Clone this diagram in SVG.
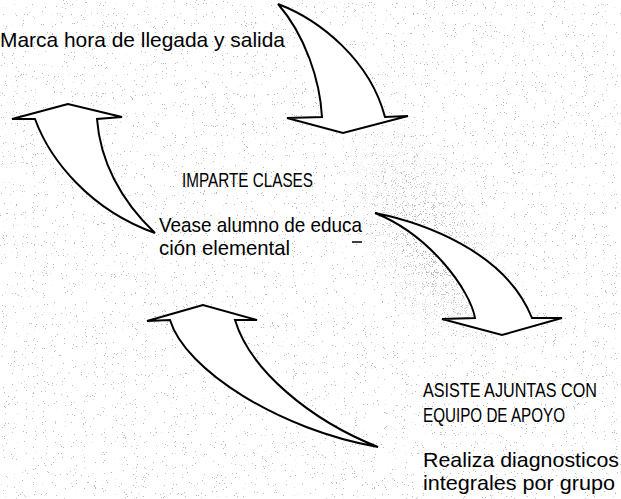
<svg xmlns="http://www.w3.org/2000/svg" width="621" height="499" viewBox="0 0 621 499">
<style>
.arrow{fill:#fff;stroke:#000;stroke-width:2;stroke-linejoin:miter}
.t{font-family:"Liberation Sans Narrow","Liberation Sans",Arial,sans-serif;font-size:21px;fill:#000}
</style>
<defs>
<filter id="speck" x="0" y="0" width="621" height="499" filterUnits="userSpaceOnUse">
<feTurbulence type="fractalNoise" baseFrequency="0.9" numOctaves="2" seed="7" result="n"/>
<feColorMatrix in="n" type="matrix" values="0 0 0 0 0.25 0 0 0 0 0.25 0 0 0 0 0.25 30 0 0 0 -21.5"/>
</filter>
<filter id="speck2" x="0" y="0" width="621" height="499" filterUnits="userSpaceOnUse">
<feTurbulence type="fractalNoise" baseFrequency="0.9" numOctaves="2" seed="11" result="n"/>
<feColorMatrix in="n" type="matrix" values="0 0 0 0 0.2 0 0 0 0 0.2 0 0 0 0 0.2 24 0 0 0 -15.4"/>
</filter>
<radialGradient id="dens" cx="430" cy="240" r="140" gradientUnits="userSpaceOnUse" gradientTransform="translate(430 240) rotate(60) scale(1 0.5) translate(-430 -240)">
<stop offset="0" stop-color="#fff" stop-opacity="1"/>
<stop offset="1" stop-color="#fff" stop-opacity="0"/>
</radialGradient>
<mask id="m">
<rect width="621" height="499" fill="url(#dens)"/>
</mask>
</defs>
<rect width="621" height="499" fill="#fff"/>
<g id="background-speckle">
<rect width="621" height="499" filter="url(#speck)" opacity="0.6"/>
<rect width="621" height="499" filter="url(#speck2)" mask="url(#m)" opacity="0.7"/>
</g>
<g id="connectors">
<path id="arrow-1" class="arrow" d="M278,4 C320,20 370,60 385,117 L408,116 L343,133 L287,118 L322,117 C320,80 305,35 278,4 Z"/>
<path id="arrow-2" class="arrow" d="M68,104 L12,119 L35,119 C50,160 90,210 155,233 C120,200 100,160 97,119 L122,117 Z"/>
<path id="arrow-3" class="arrow" d="M375,213 C420,222 505,250 532,318 L562,318 L502,335 L442,319 L475,318 C470,290 430,235 375,213 Z"/>
<path id="arrow-4" class="arrow" d="M203,305 L147,321 L170,320 C185,370 280,430 378,447 C310,420 250,370 235,320 L257,320 Z"/>
</g>
<g id="node-marca">
<text class="t" x="0" y="47" textLength="285" lengthAdjust="spacingAndGlyphs">Marca hora de llegada y salida</text>
</g>
<g id="node-imparte">
<text class="t" x="182" y="187" textLength="131" lengthAdjust="spacingAndGlyphs">IMPARTE CLASES</text>
<text class="t" x="159" y="232" textLength="203" lengthAdjust="spacingAndGlyphs">Vease alumno de educa</text>
<line x1="352" y1="242" x2="362" y2="242" stroke="#000" stroke-width="1.5"/>
<text class="t" x="159" y="255" textLength="131" lengthAdjust="spacingAndGlyphs">ción elemental</text>
</g>
<g id="node-asiste">
<text class="t" transform="translate(423 397) scale(0.85 1)" x="0" y="0" textLength="204.7" lengthAdjust="spacingAndGlyphs">ASISTE AJUNTAS CON</text>
<text class="t" x="423" y="422" textLength="142" lengthAdjust="spacingAndGlyphs">EQUIPO DE APOYO</text>
<text class="t" x="423" y="467" textLength="196" lengthAdjust="spacingAndGlyphs">Realiza diagnosticos</text>
<text class="t" x="423" y="490" textLength="192" lengthAdjust="spacingAndGlyphs">integrales por grupo</text>
</g>
</svg>
